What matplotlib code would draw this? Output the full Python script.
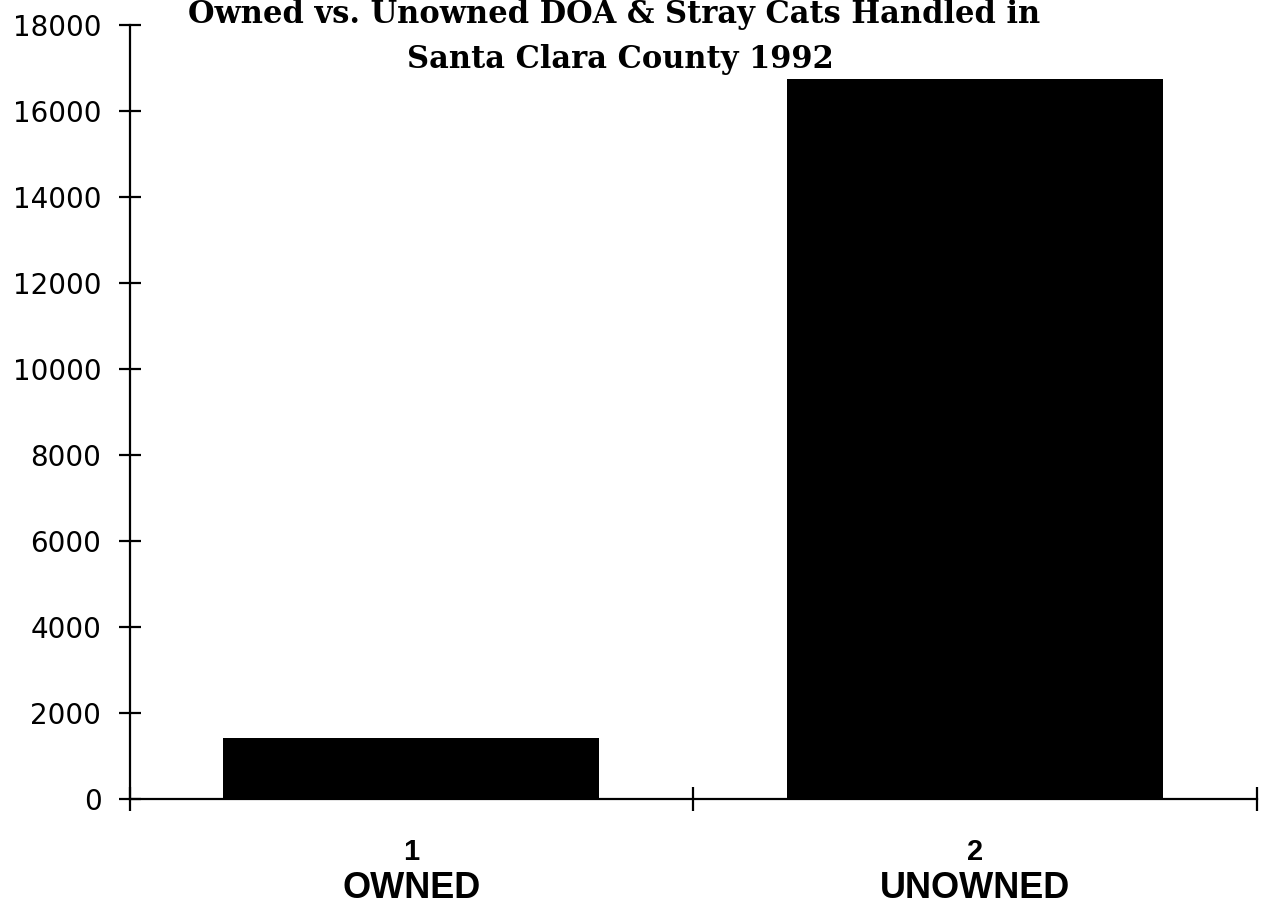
import matplotlib
matplotlib.use("Agg")
import matplotlib.pyplot as plt
from matplotlib.transforms import blended_transform_factory

categories = ["OWNED", "UNOWNED"]
cat_numbers = ["1", "2"]
values = [1425, 16740]
yticks = [0, 2000, 4000, 6000, 8000, 10000, 12000, 14000, 16000, 18000]
title_lines = ["Owned vs. Unowned DOA & Stray Cats Handled in", "Santa Clara County 1992"]

W, H = 1266, 915
fig = plt.figure(figsize=(W / 100, H / 100), dpi=100)
ax = fig.add_axes([129.5 / W, 1 - 799 / H, (1256.5 - 129.5) / W, (799 - 24.7) / H])

pos = [i + 0.5 for i in range(len(values))]
ax.bar(pos, values, width=0.667, color="black", edgecolor="black", linewidth=0)

ax.set_xlim(0, len(values))
ax.set_ylim(0, 18000)
ax.set_yticks(yticks)
ax.set_yticklabels([str(v) for v in yticks], fontfamily="DejaVu Sans", fontsize=20)
ax.set_xticks(range(len(values) + 1))
ax.set_xticklabels([])

for s in ["top", "right"]:
    ax.spines[s].set_visible(False)
for s in ["left", "bottom"]:
    ax.spines[s].set_linewidth(1.6)
    ax.spines[s].set_color("black")

ax.tick_params(axis="y", direction="inout", length=16.5, width=1.6, pad=12, colors="black")
ax.tick_params(axis="x", direction="inout", length=17, width=1.6)

tr = blended_transform_factory(ax.transData, fig.transFigure)
for p, n, c in zip(pos, cat_numbers, categories):
    ax.text(p, 1 - 852 / H, n, transform=tr, ha="center", va="center",
            fontfamily="Liberation Sans", fontweight="bold", fontsize=21)
    ax.text(p, 1 - 888 / H, c, transform=tr, ha="center", va="center",
            fontfamily="Liberation Sans", fontweight="bold", fontsize=26)

fig.text(614 / W, 1 - 23 / H, title_lines[0], ha="center", va="baseline",
         fontfamily="DejaVu Serif", fontweight="bold", fontsize=22)
fig.text(620 / W, 1 - 68 / H, title_lines[1], ha="center", va="baseline",
         fontfamily="DejaVu Serif", fontweight="bold", fontsize=22)

fig.savefig("out.png", dpi=100, facecolor="white")
